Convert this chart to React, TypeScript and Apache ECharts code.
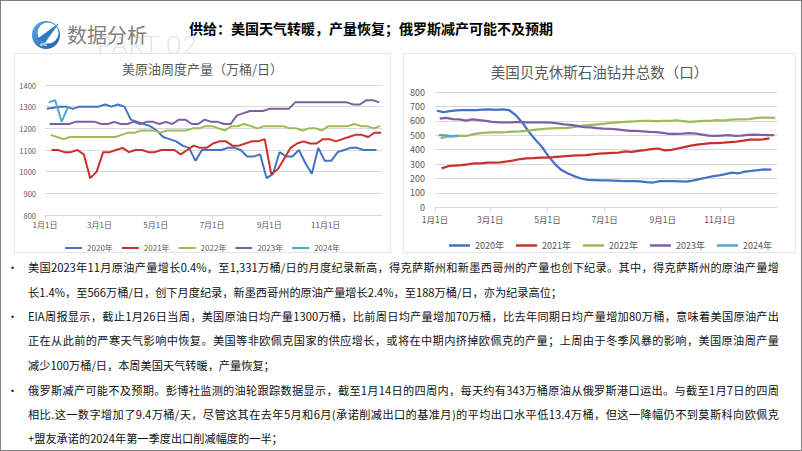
import React, { useEffect, useRef } from "react";
import * as echarts from "echarts";

const FONT = "'Noto Sans CJK SC', 'Noto Sans', sans-serif";

const MONTH_DAYS = [31, 28, 31, 30, 31, 30, 31, 31, 30, 31, 30, 31];
const DAY_CATEGORIES: string[] = (() => {
  const out: string[] = [];
  MONTH_DAYS.forEach((n, m) => {
    for (let d = 1; d <= n; d++) out.push(`${m + 1}月${d}日`);
  });
  out.push("1月1日");
  return out;
})();
const LABEL_DAYS = [0, 59, 120, 181, 243, 304];

const YEARS = ["2020年", "2021年", "2022年", "2023年", "2024年"];
const YEAR_START_DAY = [2, 7, 6, 5, 4];
const COLORS = ["#4472C4", "#C9302C", "#9BBB59", "#7E5FA5", "#4BACC6"];

// 美原油周度产量（万桶/日）
const PROD_2020 = [1290, 1295, 1300, 1300, 1290, 1300, 1300, 1300, 1300, 1310, 1300, 1310, 1300, 1240, 1230, 1220, 1210, 1190, 1160, 1150, 1140, 1120, 1110, 1050, 1100, 1100, 1100, 1100, 1110, 1110, 1100, 1070, 1070, 1080, 970, 990, 1090, 1070, 1070, 1100, 1040, 990, 1110, 1050, 1050, 1090, 1100, 1110, 1110, 1100, 1100, 1100];
const PROD_2021 = [1100, 1100, 1090, 1090, 1100, 1080, 970, 1000, 1090, 1090, 1100, 1110, 1090, 1100, 1100, 1090, 1090, 1100, 1100, 1100, 1080, 1100, 1120, 1110, 1110, 1130, 1140, 1140, 1120, 1120, 1130, 1140, 1140, 1150, 990, 1010, 1060, 1110, 1130, 1140, 1130, 1130, 1150, 1150, 1140, 1150, 1160, 1170, 1170, 1160, 1180, 1180];
const PROD_2022 = [1170, 1160, 1150, 1160, 1160, 1160, 1160, 1160, 1160, 1160, 1160, 1170, 1180, 1180, 1190, 1190, 1190, 1180, 1190, 1190, 1190, 1190, 1200, 1200, 1210, 1210, 1200, 1190, 1210, 1210, 1220, 1210, 1200, 1210, 1210, 1210, 1210, 1200, 1200, 1190, 1200, 1200, 1190, 1210, 1210, 1210, 1210, 1220, 1210, 1210, 1200, 1210];
const PROD_2023 = [1220, 1220, 1220, 1220, 1230, 1230, 1230, 1230, 1220, 1220, 1230, 1220, 1220, 1230, 1220, 1230, 1230, 1220, 1230, 1220, 1240, 1240, 1220, 1220, 1240, 1230, 1230, 1220, 1220, 1260, 1270, 1280, 1280, 1280, 1290, 1290, 1290, 1290, 1320, 1320, 1320, 1320, 1320, 1320, 1320, 1320, 1320, 1310, 1310, 1330, 1330, 1320];
const PROD_2024 = [1320, 1330, 1230, 1300];

// 美国贝克休斯石油钻井总数（口）
const RIGS_2020 = [670, 660, 668, 673, 675, 675, 675, 678, 680, 676, 680, 675, 640, 590, 525, 470, 420, 355, 300, 258, 235, 215, 200, 190, 188, 186, 186, 185, 183, 182, 182, 180, 175, 172, 182, 182, 182, 180, 178, 185, 195, 205, 215, 222, 230, 240, 236, 248, 252, 258, 263, 262];
const RIGS_2021 = [270, 285, 290, 292, 298, 305, 305, 310, 310, 312, 318, 325, 335, 340, 342, 345, 345, 348, 352, 355, 358, 360, 362, 368, 372, 375, 378, 380, 388, 385, 392, 397, 403, 408, 395, 398, 408, 418, 428, 435, 440, 446, 446, 448, 452, 456, 462, 470, 470, 472, 478];
const RIGS_2022 = [480, 490, 492, 495, 495, 508, 515, 518, 520, 520, 522, 525, 526, 530, 535, 540, 545, 548, 550, 550, 555, 562, 568, 572, 576, 580, 585, 590, 592, 595, 598, 600, 600, 598, 600, 600, 604, 598, 592, 596, 600, 600, 604, 602, 606, 610, 610, 612, 618, 622, 622, 620];
const RIGS_2023 = [615, 620, 612, 610, 602, 610, 605, 600, 593, 590, 590, 590, 592, 590, 590, 590, 590, 588, 582, 575, 572, 565, 556, 555, 550, 546, 545, 540, 535, 530, 530, 527, 524, 522, 516, 510, 510, 512, 515, 512, 505, 498, 496, 498, 500, 496, 498, 502, 505, 502, 500, 500];
const RIGS_2024 = [500, 499, 494, 497];

const PROD_SERIES = [PROD_2020, PROD_2021, PROD_2022, PROD_2023, PROD_2024];
const RIGS_SERIES = [RIGS_2020, RIGS_2021, RIGS_2022, RIGS_2023, RIGS_2024];

const LEFT_TITLE = "美原油周度产量（万桶/日）";
const RIGHT_TITLE = "美国贝克休斯石油钻井总数（口）";
const HEADLINE = "供给：美国天气转暖，产量恢复；俄罗斯减产可能不及预期";

const BODY_LINES: { text: string; bullet: boolean; full: boolean }[] = [
  { text: "美国2023年11月原油产量增长0.4%，至1,331万桶/日的月度纪录新高，得克萨斯州和新墨西哥州的产量也创下纪录。其中，得克萨斯州的原油产量增", bullet: true, full: true },
  { text: "长1.4%，至566万桶/日，创下月度纪录，新墨西哥州的原油产量增长2.4%，至188万桶/日，亦为纪录高位；", bullet: false, full: false },
  { text: "EIA周报显示，截止1月26日当周，美国原油日均产量1300万桶，比前周日均产量增加70万桶，比去年同期日均产量增加80万桶，意味着美国原油产出", bullet: true, full: true },
  { text: "正在从此前的严寒天气影响中恢复。美国等非欧佩克国家的供应增长，或将在中期内挤掉欧佩克的产量；上周由于冬季风暴的影响，美国原油周产量", bullet: false, full: true },
  { text: "减少100万桶/日，本周美国天气转暖，产量恢复；", bullet: false, full: false },
  { text: "俄罗斯减产可能不及预期。彭博社监测的油轮跟踪数据显示，截至1月14日的四周内，每天约有343万桶原油从俄罗斯港口运出。与截至1月7日的四周", bullet: true, full: true },
  { text: "相比.这一数字增加了9.4万桶/天，尽管这其在去年5月和6月(承诺削减出口的基准月)的平均出口水平低13.4万桶，但这一降幅仍不到莫斯科向欧佩克", bullet: false, full: true },
  { text: "+盟友承诺的2024年第一季度出口削减幅度的一半；", bullet: false, full: false },
];
const LINE_CENTERS = [266, 290.5, 315, 339, 363.5, 389, 413, 437];

const labelSet = new Set(LABEL_DAYS);
const showLabel = (i: number) => labelSet.has(i);

function buildSeries(all: number[][], width: number) {
  return all.map((vals, k) => ({
    name: YEARS[k],
    type: "line",
    symbol: "none",
    showSymbol: false,
    smooth: false,
    color: COLORS[k],
    itemStyle: { color: COLORS[k] },
    lineStyle: { width, color: COLORS[k] },
    data: vals.map((v, i) => [YEAR_START_DAY[k] + 7 * i, v]),
  }));
}

function xAxisOpt(fontSize: number, margin: number) {
  return {
    type: "category",
    data: DAY_CATEGORIES,
    boundaryGap: false,
    axisLine: { lineStyle: { color: "#D9D9D9" } },
    axisTick: { show: true, interval: showLabel, length: 4, lineStyle: { color: "#D9D9D9" } },
    axisLabel: { interval: showLabel, fontSize, color: "#595959", margin, fontFamily: FONT },
    splitLine: { show: false },
  };
}

const plain = (v: number) => String(v);

const leftOption = {
  animation: false,
  textStyle: { fontFamily: FONT },
  title: {
    text: LEFT_TITLE,
    left: "center",
    top: 3,
    textStyle: { fontSize: 13, fontWeight: "normal", color: "#595959", fontFamily: FONT },
  },
  legend: {
    data: YEARS.map((name) => ({ name, icon: "rect" })),
    top: 185,
    left: "center",
    itemWidth: 17,
    itemHeight: 2,
    itemGap: 9,
    textStyle: { fontSize: 8, color: "#595959", fontFamily: FONT },
  },
  grid: { left: 30, right: 8, top: 31, bottom: 37 },
  xAxis: xAxisOpt(8, 5),
  yAxis: {
    type: "value",
    min: 800,
    max: 1400,
    interval: 100,
    axisLabel: { fontSize: 7.5, color: "#595959", margin: 9, fontFamily: FONT, formatter: plain },
    splitLine: { lineStyle: { color: "#D9D9D9" } },
    axisLine: { show: false },
    axisTick: { show: false },
  },
  series: buildSeries(PROD_SERIES, 2),
};

const rightOption = {
  animation: false,
  textStyle: { fontFamily: FONT },
  title: {
    text: RIGHT_TITLE,
    left: "center",
    top: 5,
    textStyle: { fontSize: 14.5, fontWeight: "normal", color: "#595959", fontFamily: FONT },
  },
  legend: {
    data: YEARS.map((name) => ({ name, icon: "rect" })),
    top: 182,
    left: 40,
    itemWidth: 21,
    itemHeight: 2.5,
    itemGap: 12,
    textStyle: { fontSize: 9, color: "#595959", fontFamily: FONT },
  },
  grid: { left: 31, right: 18, top: 38, bottom: 44.7 },
  xAxis: xAxisOpt(8.5, 7),
  yAxis: {
    type: "value",
    min: 0,
    max: 800,
    interval: 100,
    axisLabel: { fontSize: 9, color: "#595959", margin: 10, fontFamily: FONT, formatter: plain },
    splitLine: { lineStyle: { color: "#D9D9D9" } },
    axisLine: { show: false },
    axisTick: { show: false },
  },
  series: buildSeries(RIGS_SERIES, 2.25),
};

function Chart({ option, style }: { option: any; style: React.CSSProperties }) {
  const ref = useRef<HTMLDivElement>(null);
  useEffect(() => {
    if (!ref.current) return;
    const chart = echarts.init(ref.current, undefined, { renderer: "svg" });
    chart.setOption(option);
    return () => chart.dispose();
  }, [option]);
  return <div ref={ref} style={style} />;
}

function Logo() {
  return (
    <svg width={30} height={30} viewBox="0 0 30 30" style={{ position: "absolute", left: 30, top: 19 }}>
      <defs>
        <linearGradient id="lg" x1="0" y1="0" x2="1" y2="1">
          <stop offset="0" stopColor="#5DA9E9" />
          <stop offset="1" stopColor="#1F5FA8" />
        </linearGradient>
      </defs>
      <circle cx={15} cy={15} r={14} fill="url(#lg)" />
      <circle cx={17} cy={13} r={10.5} fill="#ffffff" />
      <polygon points="6,19 28,3 14,23" fill="#2F78C4" />
      <polygon points="14,23 28,3 17,18" fill="#9CC8EE" />
      <text x={9} y={26} fontSize={3.2} fill="#ffffff" fontFamily="Roboto" fontWeight="bold">AYIC</text>
    </svg>
  );
}

export default function App() {
  useEffect(() => {
    document.body.style.margin = "0";
  }, []);
  return (
    <div
      style={{
        position: "fixed",
        left: 0,
        top: 0,
        width: 802,
        height: 451,
        boxSizing: "border-box",
        border: "1px solid #808080",
        background: "#ffffff",
        overflow: "hidden",
        fontFamily: FONT,
      }}
    >
      <div
        style={{
          position: "absolute",
          left: 96,
          top: 31,
          fontSize: 25,
          lineHeight: "25px",
          fontFamily: "Lato",
          fontWeight: 300,
          color: "#E2E2E2",
          letterSpacing: 1,
          whiteSpace: "nowrap",
          zIndex: 0,
        }}
      >
        PART 02
      </div>
      <Logo />
      <div
        style={{
          position: "absolute",
          left: 66,
          top: 23,
          fontSize: 20,
          lineHeight: "22px",
          color: "#7F7F7F",
          whiteSpace: "nowrap",
          zIndex: 1,
        }}
      >
        数据分析
      </div>
      <div
        style={{
          position: "absolute",
          left: 188,
          top: 17,
          fontSize: 14,
          lineHeight: "20px",
          fontWeight: "bold",
          color: "#000000",
          whiteSpace: "nowrap",
          zIndex: 1,
        }}
      >
        {HEADLINE}
      </div>
      <Chart
        option={leftOption}
        style={{
          position: "absolute",
          left: 13,
          top: 52,
          width: 377,
          height: 200,
          boxSizing: "border-box",
          border: "1px solid #E6E6E6",
          background: "#ffffff",
          zIndex: 2,
        }}
      />
      <Chart
        option={rightOption}
        style={{
          position: "absolute",
          left: 402,
          top: 52,
          width: 393,
          height: 200,
          boxSizing: "border-box",
          border: "1px solid #E6E6E6",
          background: "#ffffff",
          zIndex: 2,
        }}
      />
      {BODY_LINES.map((ln, i) => (
        <React.Fragment key={i}>
          {ln.bullet && (
            <div
              style={{
                position: "absolute",
                left: 6,
                top: LINE_CENTERS[i] - 10,
                fontSize: 11,
                lineHeight: "20px",
                color: "#000",
              }}
            >
              •
            </div>
          )}
          <div
            style={{
              position: "absolute",
              left: 27,
              top: LINE_CENTERS[i] - 10,
              width: 751,
              fontSize: 11.2,
              lineHeight: "20px",
              color: "#111",
              textAlign: ln.full ? "justify" : "left",
              textAlignLast: ln.full ? "justify" : "auto",
            }}
          >
            {ln.text}
          </div>
        </React.Fragment>
      ))}
    </div>
  );
}
